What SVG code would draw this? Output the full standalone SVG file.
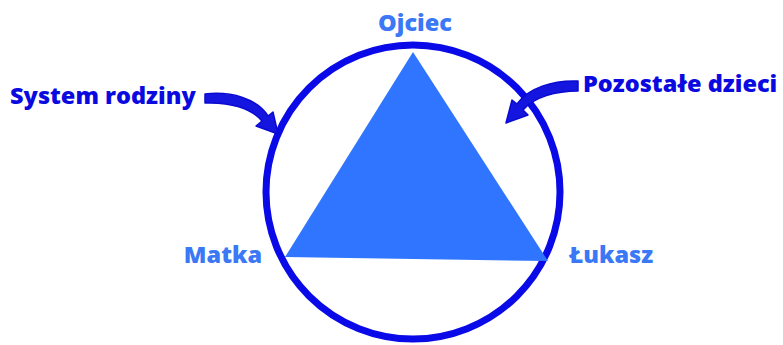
<svg xmlns="http://www.w3.org/2000/svg" width="783" height="345" viewBox="0 0 783 345">
<style>
.lbl{font-family:"Open Sans","Liberation Sans",sans-serif;font-weight:800;font-size:23.5px;fill:#3a78f5}
.dk{font-family:"Open Sans","Liberation Sans",sans-serif;font-weight:800;font-size:23.5px;fill:#0a0ae0}
.arr{fill:#1515e0;stroke:#0a0ad0;stroke-width:1.5;stroke-linejoin:round}
</style>
<rect width="783" height="345" fill="#fff"/>
<g id="circle"><circle cx="413" cy="192" r="147" fill="none" stroke="#0a0ae8" stroke-width="7"/></g>
<g id="triangle"><polygon points="413,52 285,257 548,261" fill="#2f75ff"/></g>
<g id="ojciec"><text class="lbl" x="415" y="31" text-anchor="middle">Ojciec</text></g>
<g id="matka"><text class="lbl" x="223" y="263" text-anchor="middle">Matka</text></g>
<g id="lukasz"><text class="lbl" x="611" y="263" text-anchor="middle">Łukasz</text></g>
<g id="system"><text class="dk" x="10" y="104">System rodziny</text></g>
<g id="pozostale"><text class="dk" x="583" y="92">Pozostałe dzieci</text></g>
<g id="connectors">
<path class="arr" d="M205,94 C232,91 257,99 268,116 L273,112 L278,134 L256,126 L262,121 C251,108 230,102 205,103 Z"/>
<path class="arr" d="M578,81 C553,80 528,88 517,104 L512,100 L506,123 L528,115 L523,110 C534,97 556,91 578,91 Z"/>
</g>
</svg>
